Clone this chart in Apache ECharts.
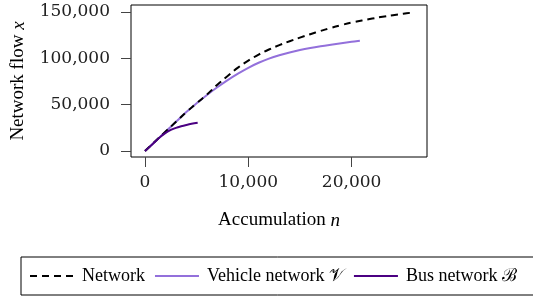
<!DOCTYPE html>
<html><head><meta charset="utf-8">
<script src="https://cdn.jsdelivr.net/npm/echarts@6/dist/echarts.min.js"></script>
<style>html,body{margin:0;padding:0;background:#fff}#c{width:533px;height:301px}</style>
</head><body><div id="c"></div>
<script>
const xTicks = [0, 10000, 20000];
const yTicks = [0, 50000, 100000, 150000];
const seriesNames = ['Network', 'Vehicle network 𝒱', 'Bus network ℬ'];
const networkN    = [0, 1000, 2000, 3000, 4000, 5000, 6000, 7000, 8000, 9000, 10000, 11000, 12000, 13000, 14000, 15000, 16000, 17000, 18000, 19000, 20000, 21000, 22000, 23000, 24000, 25000, 26000];
const networkX    = [0, 10500, 21000, 31500, 42000, 51500, 61000, 71500, 81000, 90000, 97500, 104000, 109500, 114200, 118400, 122300, 126000, 129500, 132800, 135800, 138500, 140800, 142900, 144800, 146500, 148100, 149500];
const vehicleN    = [0, 1000, 2000, 3000, 4000, 5000, 6000, 7000, 8000, 9000, 10000, 11000, 12000, 13000, 14000, 15000, 16000, 17000, 18000, 19000, 20000, 20800];
const vehicleX    = [0, 10500, 21000, 31500, 42000, 51500, 60500, 68800, 76500, 83500, 89800, 95200, 99700, 103300, 106300, 108900, 111100, 113000, 114700, 116300, 117800, 119000];
const busN        = [0, 500, 1000, 1500, 2000, 2500, 3000, 3500, 4000, 4500, 5100];
const busX        = [0, 5000, 10300, 15300, 19600, 22700, 25000, 26700, 28100, 29300, 30400];

const pair = (a, b) => a.map((v, i) => [v, b[i]]);
const fmt = v => v.toLocaleString('en-US');
const serif = "'Liberation Serif', 'DejaVu Serif', serif";
const numFont = "'DejaVu Serif', serif";

const chart = echarts.init(document.getElementById('c'), null, {renderer: 'canvas'});
chart.setOption({
  animation: false,
  backgroundColor: '#fff',
  grid: {left: 131, right: 106, top: 5, bottom: 144, show: true, borderColor: '#000', borderWidth: 1,
         backgroundColor: 'transparent', containLabel: false, outerBoundsMode: 'none'},
  xAxis: {
    type: 'value', min: -1355, max: 27300,
    name: 'Accumulation {i|n}', nameLocation: 'middle', nameGap: 54,
    nameTextStyle: {fontFamily: serif, fontSize: 19, color: '#000', rich: {i: {fontFamily: serif, fontStyle: 'italic', fontSize: 19}}},
    axisLine: {show: false, onZero: false},
    axisTick: {show: true, customValues: xTicks, length: 10, inside: false, lineStyle: {color: '#444', width: 1}},
    axisLabel: {customValues: xTicks, formatter: fmt, fontFamily: numFont, fontSize: 17, color: '#222', margin: 17},
    splitLine: {show: false}
  },
  yAxis: {
    type: 'value', min: -6450, max: 157500,
    name: 'Network flow {i|x}', nameLocation: 'middle', nameGap: 103, nameRotate: 90,
    nameTextStyle: {fontFamily: serif, fontSize: 19, color: '#000', rich: {i: {fontFamily: serif, fontStyle: 'italic', fontSize: 19}}},
    axisLine: {show: false, onZero: false},
    axisTick: {show: true, customValues: yTicks, length: 10, inside: false, lineStyle: {color: '#444', width: 1}},
    axisLabel: {customValues: yTicks, formatter: fmt, fontFamily: numFont, fontSize: 17, color: '#222', margin: 21},
    splitLine: {show: false}
  },
  legend: {
    left: 21, top: 257, width: 600,
    padding: [10, 40, 10, 8],
    borderColor: '#000', borderWidth: 1, borderRadius: 0,
    itemWidth: 44, itemHeight: 14, itemGap: 9,
    itemStyle: {opacity: 0},
    textStyle: {fontFamily: serif, fontSize: 18, color: '#000', padding: [0, 0, 0, 3]},
    data: seriesNames
  },
  series: [
    {name: seriesNames[0], type: 'line', data: pair(networkN, networkX), smooth: 0.4, showSymbol: false, symbol: 'none',
     lineStyle: {color: '#000', width: 2, type: [7, 5]}, itemStyle: {color: '#000'}, z: 3},
    {name: seriesNames[1], type: 'line', data: pair(vehicleN, vehicleX), smooth: 0.4, showSymbol: false, symbol: 'none',
     lineStyle: {color: '#9370DB', width: 2}, itemStyle: {color: '#9370DB'}, z: 2},
    {name: seriesNames[2], type: 'line', data: pair(busN, busX), smooth: 0.4, showSymbol: false, symbol: 'none',
     lineStyle: {color: '#4B0082', width: 2}, itemStyle: {color: '#4B0082'}, z: 4}
  ]
});
</script></body></html>
